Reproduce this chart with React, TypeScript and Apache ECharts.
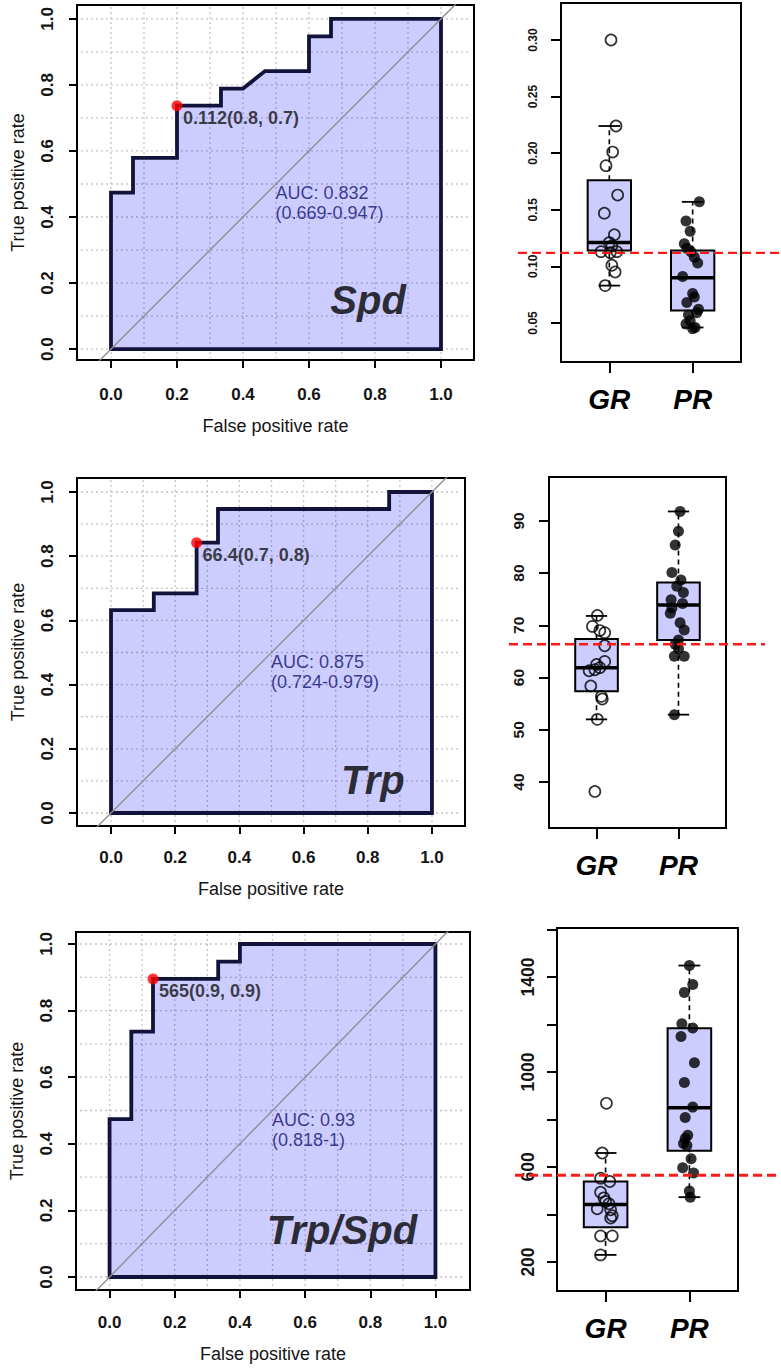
import React, { useEffect, useRef } from "react";
import * as echarts from "echarts";

const FONT = "'Liberation Sans', Arial, Helvetica, sans-serif";

// ---------- ROC data ----------
const ROC_TICKS = [0, 0.2, 0.4, 0.6, 0.8, 1.0];
const GRID_VALUES = [0, 0.1, 0.2, 0.3, 0.4, 0.5, 0.6, 0.7, 0.8, 0.9, 1.0];
const DIAGONAL = [[-0.2, -0.2], [1.2, 1.2]];

const spdFPR = [0, 0, 0.0667, 0.0667, 0.2, 0.2, 0.3333, 0.3333, 0.4, 0.4667, 0.6, 0.6, 0.6667, 0.6667, 1, 1, 0];
const spdTPR = [0, 0.474, 0.474, 0.579, 0.579, 0.737, 0.737, 0.789, 0.789, 0.842, 0.842, 0.947, 0.947, 1, 1, 0, 0];
const trpFPR = [0, 0, 0.1333, 0.1333, 0.2667, 0.2667, 0.3333, 0.3333, 0.8667, 0.8667, 1, 1, 0];
const trpTPR = [0, 0.632, 0.632, 0.684, 0.684, 0.842, 0.842, 0.947, 0.947, 1, 1, 0, 0];
const ratioFPR = [0, 0, 0.0667, 0.0667, 0.1333, 0.1333, 0.3333, 0.3333, 0.4, 0.4, 1, 1, 0];
const ratioTPR = [0, 0.474, 0.474, 0.737, 0.737, 0.895, 0.895, 0.947, 0.947, 1, 1, 0, 0];

const spdCut = [0.2, 0.737];
const trpCut = [0.2667, 0.842];
const ratioCut = [0.1333, 0.895];
const cutLabels = ["0.112(0.8, 0.7)", "66.4(0.7, 0.8)", "565(0.9, 0.9)"];
const aucLabels = ["AUC: 0.832\n(0.669-0.947)", "AUC: 0.875\n(0.724-0.979)", "AUC: 0.93\n(0.818-1)"];
const AUC_ANCHOR = [0.5, 0.5];
const markerNames = ["Spd", "Trp", "Trp/Spd"];

// ---------- Boxplot data ----------
const groups = ["GR", "PR"];

const spdGR = [0.300, 0.224, 0.201, 0.189, 0.163, 0.147, 0.128, 0.121, 0.118, 0.113, 0.113, 0.112, 0.101, 0.095, 0.083];
const spdGRJitter = [0.02, 0.08, 0.04, -0.04, 0.1, -0.06, 0.06, 0, 0.03, -0.1, 0.09, 0.01, 0.03, 0.07, -0.05];
const spdPR = [0.157, 0.140, 0.131, 0.120, 0.116, 0.113, 0.108, 0.103, 0.091, 0.076, 0.073, 0.068, 0.062, 0.059, 0.057, 0.052, 0.049, 0.046, 0.045];
const spdPRJitter = [0.08, -0.08, -0.03, -0.1, -0.07, -0.02, 0.02, 0.06, -0.12, 0, 0.02, -0.07, 0.07, 0.05, -0.05, -0.03, -0.08, 0.03, 0];
const spdBoxGR = [0.083, 0.114, 0.121, 0.176, 0.224];
const spdBoxPR = [0.046, 0.061, 0.090, 0.114, 0.157];
const spdThreshold = 0.112;
const spdTicks = [0.05, 0.1, 0.15, 0.2, 0.25, 0.3];

const trpGR = [71.9, 69.8, 69.0, 68.6, 66.1, 63.1, 62.5, 61.9, 61.5, 61.3, 58.4, 56.4, 55.9, 52.0, 38.2];
const trpGRJitter = [0.01, -0.05, 0.04, 0.1, 0.1, 0.1, 0.0, 0.04, -0.02, -0.09, -0.07, 0.06, 0.07, 0.01, -0.02];
const trpPR = [91.8, 88.0, 85.4, 80.1, 78.7, 77.5, 76.3, 74.9, 74.2, 73.3, 72.3, 70.5, 69.1, 67.2, 66.4, 65.5, 64.1, 64.1, 52.9];
const trpPRJitter = [0.02, 0, -0.04, -0.08, 0.03, -0.02, 0.06, -0.09, 0.05, -0.08, -0.1, 0.02, 0.07, 0, -0.04, 0, -0.05, 0.07, -0.05];
const trpBoxGR = [52.0, 57.4, 61.9, 67.4, 71.8];
const trpBoxPR = [52.9, 67.2, 73.9, 78.2, 91.8];
const trpThreshold = 66.4;
const trpTicks = [40, 50, 60, 70, 80, 90];

const ratioGR = [868, 659, 553, 539, 494, 470, 455, 445, 424, 420, 395, 385, 310, 310, 230];
const ratioGRJitter = [0.01, -0.04, -0.06, 0.05, -0.06, -0.02, 0, 0.04, -0.1, 0.06, 0.08, 0.06, -0.06, 0.08, -0.06];
const ratioPR = [1448, 1368, 1335, 1203, 1185, 1149, 1039, 956, 852, 808, 734, 720, 699, 690, 635, 597, 575, 499, 473];
const ratioPRJitter = [0, 0.04, -0.06, -0.09, 0.04, -0.1, 0.06, -0.06, 0.04, -0.05, -0.02, -0.05, -0.07, -0.03, 0.02, -0.08, 0.05, 0, 0.01];
const ratioBoxGR = [230, 346, 442, 539, 659];
const ratioBoxPR = [473, 668, 849, 1184, 1448];
const ratioThreshold = 565;
const ratioTicks = [200, 400, 600, 800, 1000, 1200, 1400, 1600];
const ratioLabelTicks = [200, 600, 1000, 1400];

// ---------- layout ----------
const rocPanels = [
  { fpr: spdFPR, tpr: spdTPR, cut: spdCut, cutLabel: cutLabels[0], auc: aucLabels[0], name: markerNames[0],
    namePos: [0.779, 0.148], grid: { left: 77, top: 5, width: 397, height: 355 },
    xr: [-0.103, 1.1], yr: [-0.033, 1.042], labelMargin: 26, nameGap: 57 },
  { fpr: trpFPR, tpr: trpTPR, cut: trpCut, cutLabel: cutLabels[1], auc: aucLabels[1], name: markerNames[1],
    namePos: [0.816, 0.103], grid: { left: 77, top: 478, width: 388, height: 348 },
    xr: [-0.106, 1.103], yr: [-0.0405, 1.0436], labelMargin: 23, nameGap: 54 },
  { fpr: ratioFPR, tpr: ratioTPR, cut: ratioCut, cutLabel: cutLabels[2], auc: aucLabels[2], name: markerNames[2],
    namePos: [0.713, 0.141], grid: { left: 70, top: 932, width: 400, height: 358 },
    xr: [-0.103, 1.106], yr: [-0.039, 1.036], labelMargin: 24, nameGap: 55 },
];

const boxPanels = [
  { gr: spdGR, grJ: spdGRJitter, pr: spdPR, prJ: spdPRJitter, boxGR: spdBoxGR, boxPR: spdBoxPR, thr: spdThreshold,
    ticks: spdTicks, labelTicks: spdTicks, fmt: (v: number) => v.toFixed(2),
    grid: { left: 561, top: 3, width: 180, height: 359 }, yr: [0.0155, 0.3327], fontSize: 12, labelMargin: 22, ext: [43, 40], dashW: 2.2 },
  { gr: trpGR, grJ: trpGRJitter, pr: trpPR, prJ: trpPRJitter, boxGR: trpBoxGR, boxPR: trpBoxPR, thr: trpThreshold,
    ticks: trpTicks, labelTicks: trpTicks, fmt: (v: number) => String(v),
    grid: { left: 549, top: 477, width: 177, height: 351 }, yr: [31.2, 98.4], fontSize: 15.5, labelMargin: 23, ext: [40, 39], dashW: 2.5 },
  { gr: ratioGR, grJ: ratioGRJitter, pr: ratioPR, prJ: ratioPRJitter, boxGR: ratioBoxGR, boxPR: ratioBoxPR, thr: ratioThreshold,
    ticks: ratioTicks, labelTicks: ratioLabelTicks, fmt: (v: number) => String(v),
    grid: { left: 557, top: 928, width: 181, height: 363 }, yr: [78, 1606], fontSize: 17.5, labelMargin: 20, ext: [42, 43], dashW: 3 },
];

const BOX_HALF = 0.26;
const STAPLE_HALF = 0.13;
const FILL = "rgba(0,0,255,0.2)";
const CURVE = "#12123a";
const TEXT = "#141414";

function buildOption() {
  const grid: any[] = [];
  const xAxis: any[] = [];
  const yAxis: any[] = [];
  const series: any[] = [];

  rocPanels.forEach((p, i) => {
    grid.push({ ...p.grid, show: true, borderColor: "#000", borderWidth: 2, backgroundColor: "transparent" });
    xAxis.push({
      gridIndex: i, type: "value", min: p.xr[0], max: p.xr[1],
      axisLine: { show: false, onZero: false }, splitLine: { show: false },
      axisTick: { show: true, length: 8, customValues: ROC_TICKS, lineStyle: { color: "#000", width: 2 } },
      axisLabel: { customValues: ROC_TICKS, formatter: (v: number) => v.toFixed(1), fontSize: 17, fontWeight: "bold",
        margin: p.labelMargin, color: TEXT, fontFamily: FONT },
      name: "False positive rate", nameLocation: "middle", nameGap: p.nameGap,
      nameTextStyle: { fontSize: 18, color: TEXT, fontFamily: FONT },
    });
    yAxis.push({
      gridIndex: i, type: "value", min: p.yr[0], max: p.yr[1],
      axisLine: { show: false, onZero: false }, splitLine: { show: false },
      axisTick: { show: true, length: 8, customValues: ROC_TICKS, lineStyle: { color: "#000", width: 2 } },
      axisLabel: { customValues: ROC_TICKS, rotate: 90, formatter: (v: number) => v.toFixed(1), fontSize: 17, fontWeight: "bold",
        margin: 21, color: TEXT, fontFamily: FONT },
      name: "True positive rate", nameLocation: "middle", nameGap: 50,
      nameTextStyle: { fontSize: 18, color: TEXT, fontFamily: FONT },
    });
    // dotted grid
    series.push({
      type: "custom", xAxisIndex: i, yAxisIndex: i, silent: true, z: 1,
      data: GRID_VALUES.map((v) => [v, v]),
      renderItem: (params: any, api: any) => {
        const cs = params.coordSys;
        const vx = api.coord([api.value(0), 0])[0];
        const hy = api.coord([0, api.value(1)])[1];
        const st = { stroke: "#c4c4c4", lineWidth: 1.3, lineDash: [2, 3] };
        return {
          type: "group",
          children: [
            { type: "line", shape: { x1: vx, y1: cs.y + 2, x2: vx, y2: cs.y + cs.height - 2 }, style: st },
            { type: "line", shape: { x1: cs.x + 4, y1: hy, x2: cs.x + cs.width - 6, y2: hy }, style: st },
          ],
        };
      },
    });
    // AUC polygon + curve
    series.push({
      type: "custom", xAxisIndex: i, yAxisIndex: i, silent: true, z: 2,
      data: [[p.fpr[0], p.tpr[0]]],
      renderItem: (params: any, api: any) => {
        const pts = p.fpr.map((x, k) => api.coord([x, p.tpr[k]]));
        return { type: "polygon", shape: { points: pts }, style: { fill: FILL, stroke: CURVE, lineWidth: 3.8, lineJoin: "miter" } };
      },
    });
    // diagonal
    series.push({
      type: "line", xAxisIndex: i, yAxisIndex: i, data: DIAGONAL, symbol: "none", clip: true, silent: true, z: 3,
      lineStyle: { color: "#8f8f8f", width: 1.4 },
    });
    // threshold point
    series.push({
      type: "scatter", xAxisIndex: i, yAxisIndex: i, data: [p.cut], symbolSize: 11, silent: true, z: 5,
      itemStyle: { color: "#ff0000" },
      label: { show: true, position: [11.5, 17.5], align: "left", verticalAlign: "middle", formatter: p.cutLabel,
        fontSize: 18, fontWeight: "bold", color: TEXT, fontFamily: FONT },
    });
    // AUC text
    series.push({
      type: "scatter", xAxisIndex: i, yAxisIndex: i, data: [AUC_ANCHOR], symbolSize: 1, silent: true, z: 5,
      itemStyle: { color: "rgba(0,0,0,0)" },
      label: { show: true, position: [0, 0], align: "left", verticalAlign: "top", formatter: p.auc,
        fontSize: 18, lineHeight: 20, color: "#10106e", fontFamily: FONT },
    });
    // big marker name
    series.push({
      type: "scatter", xAxisIndex: i, yAxisIndex: i, data: [p.namePos], symbolSize: 1, silent: true, z: 5,
      itemStyle: { color: "rgba(0,0,0,0)" },
      label: { show: true, position: [0.5, 0.5], align: "center", verticalAlign: "middle", formatter: p.name,
        fontSize: 40, fontWeight: "bold", fontStyle: "italic", color: "#000", fontFamily: FONT },
    });
  });

  boxPanels.forEach((b, j) => {
    const gi = 3 + j;
    grid.push({ ...b.grid, show: true, borderColor: "#000", borderWidth: 2, backgroundColor: "transparent" });
    xAxis.push({
      gridIndex: gi, type: "value", min: 0.42, max: 2.58,
      axisLine: { show: false, onZero: false }, splitLine: { show: false },
      axisTick: { show: true, length: 11, customValues: [1, 2], lineStyle: { color: "#000", width: 2 } },
      axisLabel: { customValues: [1, 2], formatter: (v: number) => groups[Math.round(v) - 1], fontSize: 28, fontWeight: "bold",
        fontStyle: "italic", margin: 23, color: "#000", fontFamily: FONT },
    });
    yAxis.push({
      gridIndex: gi, type: "value", min: b.yr[0], max: b.yr[1],
      axisLine: { show: false, onZero: false }, splitLine: { show: false },
      axisTick: { show: true, length: 10, customValues: b.ticks, lineStyle: { color: "#000", width: 2 } },
      axisLabel: { customValues: b.labelTicks, rotate: 90, formatter: b.fmt, fontSize: b.fontSize, fontWeight: "bold",
        margin: b.labelMargin, color: TEXT, fontFamily: FONT },
    });
    // boxes
    series.push({
      type: "custom", xAxisIndex: gi, yAxisIndex: gi, silent: true, z: 2,
      data: [[1, ...b.boxGR], [2, ...b.boxPR]],
      renderItem: (params: any, api: any) => {
        const x = api.value(0);
        const c = (xx: number, k: number) => api.coord([xx, api.value(k)]);
        const lo = c(x, 1), q1 = c(x, 2), md = c(x, 3), q3 = c(x, 4), hi = c(x, 5);
        const l = api.coord([x - BOX_HALF, 0])[0], r = api.coord([x + BOX_HALF, 0])[0];
        const sl = api.coord([x - STAPLE_HALF, 0])[0], sr = api.coord([x + STAPLE_HALF, 0])[0];
        const dash = { stroke: "#000", lineWidth: 1.6, lineDash: [5, 4] };
        const solid = { stroke: "#000", lineWidth: 1.8 };
        return {
          type: "group",
          children: [
            { type: "line", shape: { x1: lo[0], y1: lo[1], x2: q1[0], y2: q1[1] }, style: dash },
            { type: "line", shape: { x1: q3[0], y1: q3[1], x2: hi[0], y2: hi[1] }, style: dash },
            { type: "line", shape: { x1: sl, y1: lo[1], x2: sr, y2: lo[1] }, style: solid },
            { type: "line", shape: { x1: sl, y1: hi[1], x2: sr, y2: hi[1] }, style: solid },
            { type: "rect", shape: { x: l, y: q3[1], width: r - l, height: q1[1] - q3[1] }, style: { fill: "#ccccff", stroke: "#000", lineWidth: 2 } },
            { type: "line", shape: { x1: l, y1: md[1], x2: r, y2: md[1] }, style: { stroke: "#000", lineWidth: 3.5 } },
          ],
        };
      },
    });
    // points
    series.push({
      type: "scatter", xAxisIndex: gi, yAxisIndex: gi, silent: true, z: 4, symbolSize: 11,
      data: b.gr.map((v, k) => [1 + b.grJ[k], v]),
      itemStyle: { color: "rgba(0,0,0,0)", borderColor: "#000", borderWidth: 1.7 },
    });
    series.push({
      type: "scatter", xAxisIndex: gi, yAxisIndex: gi, silent: true, z: 4, symbolSize: 11,
      data: b.pr.map((v, k) => [2 + b.prJ[k], v]),
      itemStyle: { color: "#000" },
    });
    // threshold line
    series.push({
      type: "custom", xAxisIndex: gi, yAxisIndex: gi, silent: true, z: 6, clip: false,
      data: [[1, b.thr]],
      renderItem: (params: any, api: any) => {
        const cs = params.coordSys;
        const y = api.coord([1, api.value(1)])[1];
        return { type: "line", shape: { x1: cs.x - b.ext[0], y1: y, x2: cs.x + cs.width + b.ext[1], y2: y },
          style: { stroke: "#ff1a1a", lineWidth: b.dashW, lineDash: [9, 5] } };
      },
    });
  });

  return { animation: false, backgroundColor: "#fff", grid, xAxis, yAxis, series };
}

export default function App() {
  const ref = useRef<HTMLDivElement>(null);
  useEffect(() => {
    document.body.style.margin = "0";
    if (!ref.current) return;
    const chart = echarts.init(ref.current, null, { renderer: "svg" });
    chart.setOption(buildOption() as any);
    return () => chart.dispose();
  }, []);
  return <div ref={ref} style={{ width: 781, height: 1369 }} />;
}
